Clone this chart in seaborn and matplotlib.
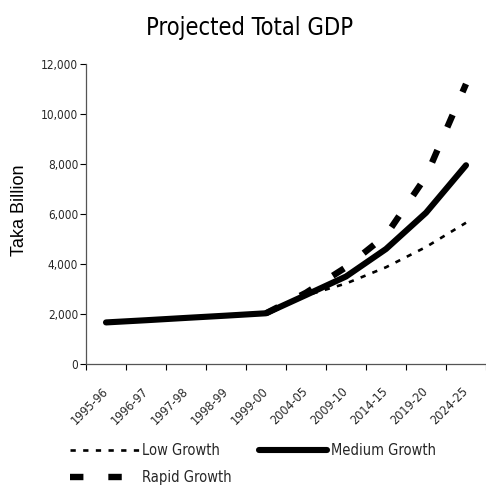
import matplotlib
matplotlib.use("Agg")
import matplotlib.pyplot as plt
from matplotlib.lines import Line2D
from matplotlib.ticker import FixedLocator, FuncFormatter
import seaborn as sns
import pandas as pd

# Fiscal-year periods on the x axis
periods = ["1995-96", "1996-97", "1997-98", "1998-99", "1999-00",
           "2004-05", "2009-10", "2014-15", "2019-20", "2024-25"]

# GDP in Taka billion; the projections branch off from 1999-00
medium_gdp = [1663, 1751, 1844, 1934, 2029, 2760, 3500, 4600, 6050, 7950]
proj_periods = periods[4:]
low_gdp = [2029, 2740, 3220, 3870, 4680, 5650]
rapid_gdp = [2029, 2850, 3870, 5150, 7500, 11200]

y_ticks = [0, 2000, 4000, 6000, 8000, 10000, 12000]

sns.set_theme(style="white")
plt.rcParams["font.family"] = ["DejaVu Sans"]
plt.rcParams["font.stretch"] = "condensed"

fig = plt.figure(figsize=(4.86, 4.88), dpi=100)
ax = fig.add_axes([86 / 486, 1 - 364 / 488, 400 / 486, 300 / 488])

medium_df = pd.DataFrame({"period": periods, "gdp": medium_gdp})
low_df = pd.DataFrame({"period": proj_periods, "gdp": low_gdp})
rapid_df = pd.DataFrame({"period": proj_periods, "gdp": rapid_gdp})

# Medium first so the category axis picks up every period in order
sns.lineplot(data=medium_df, x="period", y="gdp", ax=ax, color="black",
             linewidth=4.4, solid_capstyle="round", zorder=3, sort=False)
sns.lineplot(data=low_df, x="period", y="gdp", ax=ax, color="black",
             linewidth=1.9, zorder=2, sort=False)
sns.lineplot(data=rapid_df, x="period", y="gdp", ax=ax, color="black",
             linewidth=4.6, zorder=4, sort=False)

med_line, low_line, rapid_line = ax.get_lines()[:3]
low_line.set_dashes((2.0, 2.8))
low_line.set_dash_capstyle("butt")
rapid_line.set_dashes((2.1, 3.9))
rapid_line.set_dash_capstyle("butt")

ax.set_xlim(-0.5, len(periods) - 0.5)
ax.set_ylim(0, 12000)

# Labels sit under category centres, tick marks on category boundaries
ax.xaxis.set_major_locator(FixedLocator(range(len(periods))))
ax.set_xticklabels(periods, rotation=45, ha="right", va="center",
                   rotation_mode="anchor", fontsize=9)
ax.xaxis.set_minor_locator(FixedLocator([i - 0.5 for i in range(len(periods) + 1)]))
ax.tick_params(axis="x", which="major", length=0, pad=18.5)
ax.tick_params(axis="x", which="minor", length=4, width=0.8, color="black",
               direction="out", bottom=True)

ax.yaxis.set_major_locator(FixedLocator(y_ticks))
ax.yaxis.set_major_formatter(FuncFormatter(lambda v, p: f"{int(v):,}"))
ax.tick_params(axis="y", length=4, width=0.8, color="black", direction="out",
               left=True, pad=1.5, labelsize=8.5)

ax.set_xlabel("")
ax.set_ylabel("")
for side in ("top", "right"):
    ax.spines[side].set_visible(False)
for side in ("left", "bottom"):
    ax.spines[side].set_color("#555555")
    ax.spines[side].set_linewidth(0.9)
ax.grid(False)

fig.text(250 / 486, 1 - 28 / 488, "Projected Total GDP", ha="center",
         va="center", fontsize=17, color="black")
fig.text(20 / 486, 1 - 210 / 488, "Taka Billion", rotation=90, ha="center",
         va="center", fontsize=13, family=["Liberation Sans", "DejaVu Sans"],
         fontstretch="normal", color="black")

h_low = Line2D([], [], color="black", linewidth=1.9, dashes=(2.0, 2.8),
               dash_capstyle="butt")
h_med = Line2D([], [], color="black", linewidth=4.4, solid_capstyle="round")
h_rapid = Line2D([], [], color="black", linewidth=4.6, dashes=(2.1, 3.9),
                 dash_capstyle="butt")
fig.legend([h_low, h_rapid, h_med], ["Low Growth", "Rapid Growth", "Medium Growth"],
           ncol=2, loc="upper left", bbox_to_anchor=(70 / 486, 1 - 443 / 488),
           frameon=False, handlelength=4.7, handletextpad=0.25,
           columnspacing=1.85, labelspacing=0.85, borderpad=0, borderaxespad=0,
           prop={"size": 10.5})

fig.savefig("out.png", dpi=100)
